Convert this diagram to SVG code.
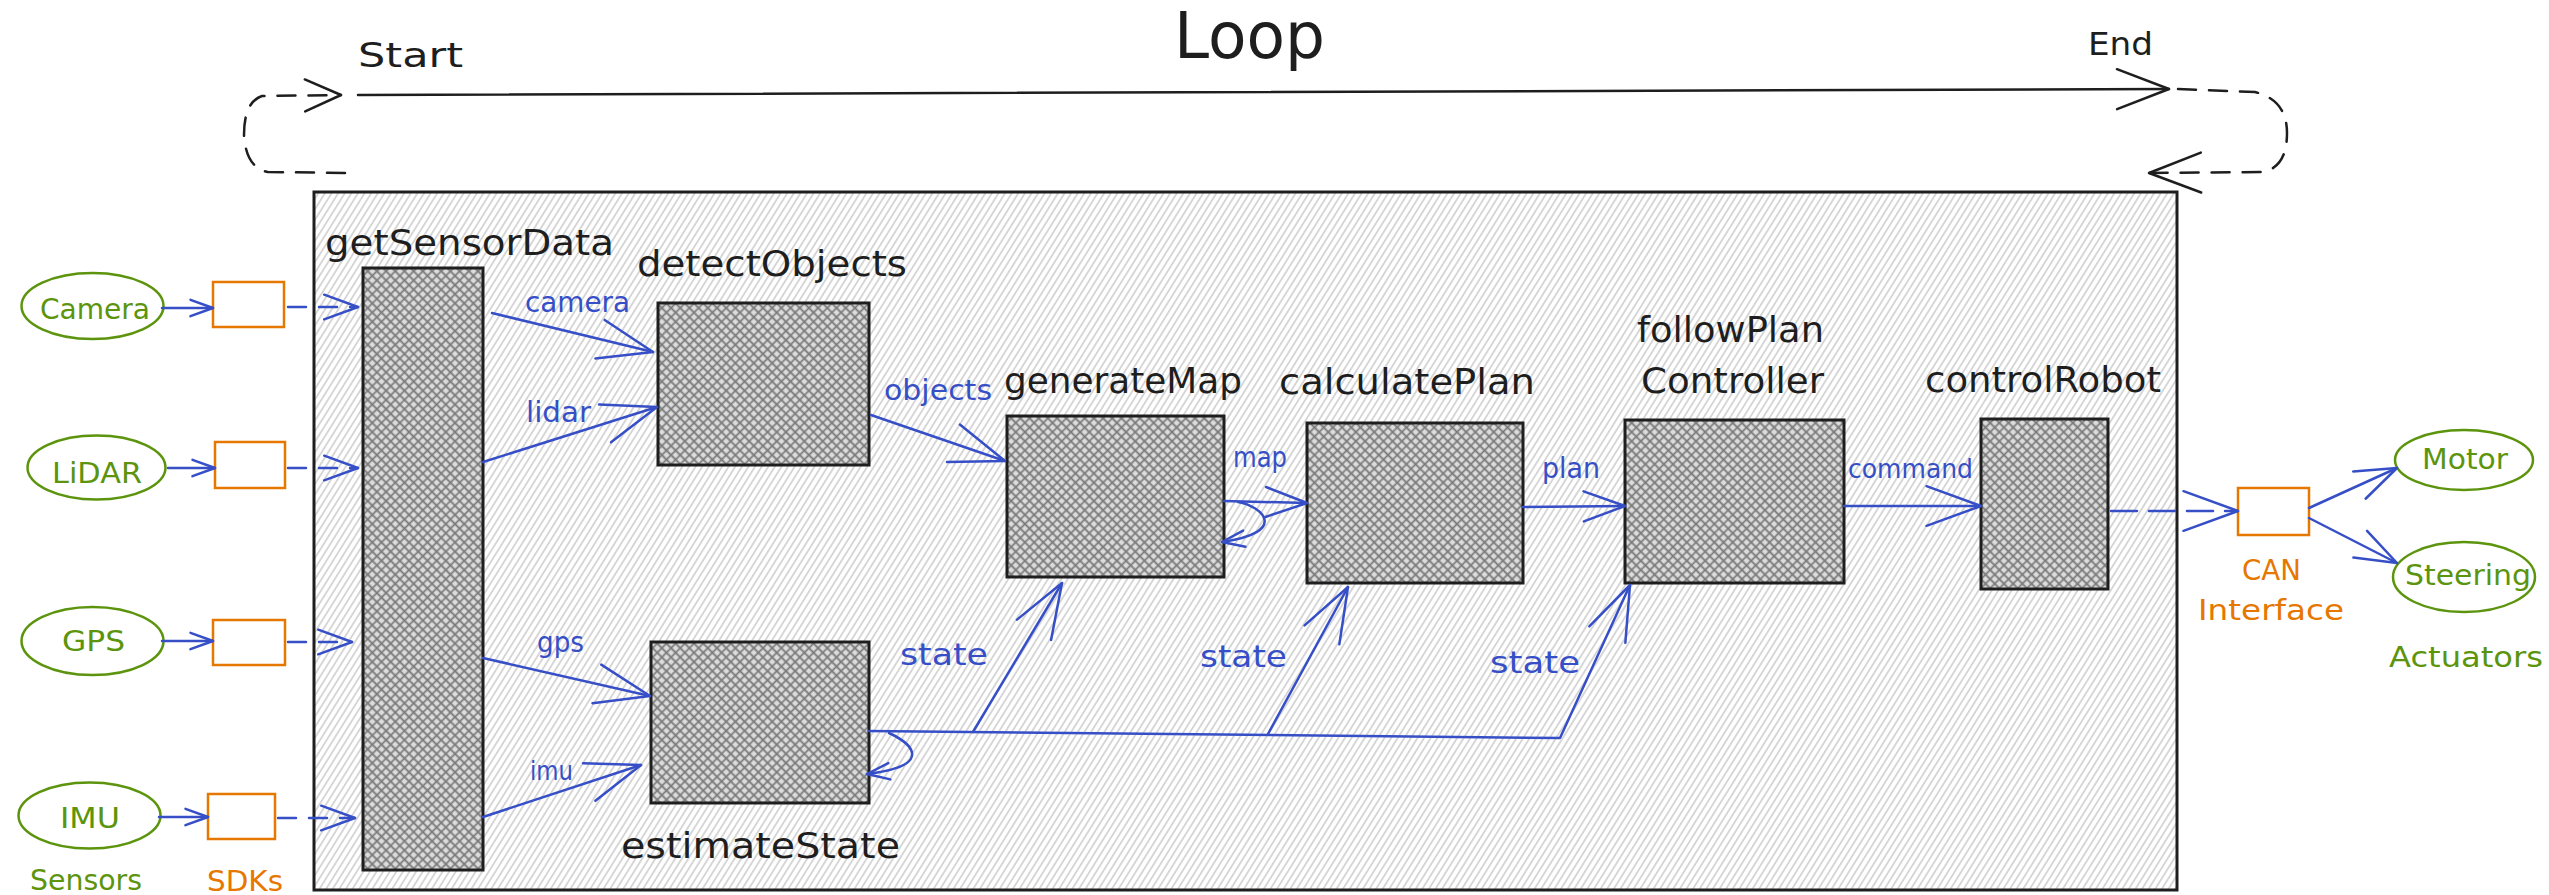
<svg xmlns="http://www.w3.org/2000/svg" width="2549" height="895" viewBox="0 0 2549 895">
<style>
  .t { font-family: "DejaVu Sans", "Liberation Sans", sans-serif; }
  .blk { fill: #1e1e1e; }
  .blue { fill: #364fc7; }
  .grn { fill: #5c940d; }
  .org { fill: #e67700; }
  .conn { fill: none; stroke: #364fc7; stroke-width: 2.5; stroke-linecap: round; stroke-linejoin: round; }
  .dash { stroke-dasharray: 18 13; }
  .dash2 { stroke-dasharray: 26 12; }
  .mk { fill: none; stroke: #364fc7; stroke-width: 2.5; stroke-linecap: round; stroke-linejoin: round; }
  .mkk { fill: none; stroke: #1e1e1e; stroke-width: 2.5; stroke-linecap: round; stroke-linejoin: round; }
  .node { fill: url(#xhatch); stroke: #1e1e1e; stroke-width: 3; }
  .sensor { fill: none; stroke: #5c940d; stroke-width: 2.5; }
  .sdk { fill: #ffffff; stroke: #e67700; stroke-width: 2.5; }
  .loop { fill: none; stroke: #1e1e1e; stroke-width: 2.5; stroke-linecap: round; }
  .loopdash { stroke-dasharray: 18 13; }
</style>
<defs>
  <!-- light single-direction hachure for the loop body -->
  <pattern id="hachure" patternUnits="userSpaceOnUse" width="5.6" height="10" patternTransform="rotate(32)">
    <rect width="5.6" height="10" fill="#ffffff"/>
    <path d="M2.8 0 V10" stroke="#b9b9b9" stroke-width="1.1"/>
  </pattern>
  <!-- cross-hatch for the step blocks -->
  <pattern id="xhatch" patternUnits="userSpaceOnUse" width="6.5" height="6.5" patternTransform="rotate(45)">
    <rect width="6.5" height="6.5" fill="#dcdcdc"/>
    <path d="M0 3.25 H6.5 M3.25 0 V6.5" stroke="#7a7a7a" stroke-width="1.7"/>
  </pattern>
  <!-- open arrowheads -->
  <marker id="ahL" markerUnits="userSpaceOnUse" orient="auto" viewBox="-60 -25 64 50" markerWidth="64" markerHeight="50" refX="0" refY="0">
    <path class="mk" d="M-54.5,-19.8 L0,0 L-54.5,19.8"/>
  </marker>
  <marker id="ahM" markerUnits="userSpaceOnUse" orient="auto" viewBox="-60 -25 64 50" markerWidth="64" markerHeight="50" refX="0" refY="0">
    <path class="mk" d="M-41.3,-15 L0,0 L-41.3,15"/>
  </marker>
  <marker id="ahD" markerUnits="userSpaceOnUse" orient="auto" viewBox="-60 -25 64 50" markerWidth="64" markerHeight="50" refX="0" refY="0">
    <path class="mk" d="M-33.8,-12.3 L0,0 L-33.8,12.3"/>
  </marker>
  <marker id="ahS" markerUnits="userSpaceOnUse" orient="auto" viewBox="-60 -25 64 50" markerWidth="64" markerHeight="50" refX="0" refY="0">
    <path class="mk" d="M-22.5,-8.2 L0,0 L-22.5,8.2"/>
  </marker>
  <marker id="ahK" markerUnits="userSpaceOnUse" orient="auto" viewBox="-60 -25 64 50" markerWidth="64" markerHeight="50" refX="0" refY="0">
    <path class="mkk" d="M-52,-20 L0,0 L-52,20"/>
  </marker>
  <marker id="ahKs" markerUnits="userSpaceOnUse" orient="auto" viewBox="-60 -25 64 50" markerWidth="64" markerHeight="50" refX="0" refY="0">
    <path class="mkk" d="M-36,-16 L0,0 L-36,16"/>
  </marker>
</defs>

<rect width="2549" height="895" fill="#ffffff"/>

<!-- loop header: start -> end with dashed return -->
<g id="loop">
  <text class="t blk" x="1174" y="58" font-size="64" textLength="151" lengthAdjust="spacingAndGlyphs">Loop</text>
  <text class="t blk" x="358" y="67" font-size="34" textLength="105" lengthAdjust="spacingAndGlyphs">Start</text>
  <text class="t blk" x="2088" y="55" font-size="32" textLength="65" lengthAdjust="spacingAndGlyphs">End</text>
  <path class="loop" d="M358 95 L2169 89" stroke-width="3" marker-end="url(#ahK)"/>
  <path class="loop loopdash" d="M345 173 L268 172 Q246 168 244 135 Q244 102 262 96 L341 95" marker-end="url(#ahKs)"/>
  <path class="loop loopdash" d="M2178 89 L2255 92 Q2287 100 2287 133 Q2287 168 2262 172 L2149 173" marker-end="url(#ahK)"/>
</g>

<!-- loop body -->
<g id="loop-body">
  <rect x="314" y="192" width="1863" height="698" fill="url(#hachure)" stroke="#1e1e1e" stroke-width="3"/>
</g>

<!-- sensors -->
<g id="sensor-camera">
  <ellipse class="sensor" cx="92.5" cy="306" rx="71" ry="33"/>
  <text class="t grn" x="40" y="319" font-size="29" textLength="110" lengthAdjust="spacingAndGlyphs">Camera</text>
</g>
<g id="sensor-lidar">
  <ellipse class="sensor" cx="96.5" cy="467.5" rx="69" ry="32"/>
  <text class="t grn" x="52" y="483" font-size="29" textLength="90" lengthAdjust="spacingAndGlyphs">LiDAR</text>
</g>
<g id="sensor-gps">
  <ellipse class="sensor" cx="92.5" cy="641" rx="71" ry="34"/>
  <text class="t grn" x="62" y="651" font-size="29" textLength="63" lengthAdjust="spacingAndGlyphs">GPS</text>
</g>
<g id="sensor-imu">
  <ellipse class="sensor" cx="89.5" cy="815.5" rx="71" ry="33"/>
  <text class="t grn" x="60" y="828" font-size="29" textLength="60" lengthAdjust="spacingAndGlyphs">IMU</text>
</g>
<g id="sensors-caption">
  <text class="t grn" x="30" y="890" font-size="29" textLength="112" lengthAdjust="spacingAndGlyphs">Sensors</text>
</g>

<!-- SDK adapters -->
<g id="sdk-camera"><rect class="sdk" x="213" y="282" width="71" height="45"/></g>
<g id="sdk-lidar"><rect class="sdk" x="215" y="442" width="70" height="46"/></g>
<g id="sdk-gps"><rect class="sdk" x="213" y="620" width="72" height="45"/></g>
<g id="sdk-imu"><rect class="sdk" x="208" y="794" width="67" height="45"/></g>
<g id="sdks-caption">
  <text class="t org" x="207" y="891" font-size="29" textLength="76" lengthAdjust="spacingAndGlyphs">SDKs</text>
</g>

<!-- processing steps -->
<g id="getSensorData">
  <rect class="node" x="363" y="268" width="120" height="602"/>
  <text class="t blk" x="325" y="255" font-size="35" textLength="289" lengthAdjust="spacingAndGlyphs">getSensorData</text>
</g>
<g id="detectObjects">
  <rect class="node" x="658" y="303" width="211" height="162"/>
  <text class="t blk" x="637" y="276" font-size="35" textLength="270" lengthAdjust="spacingAndGlyphs">detectObjects</text>
</g>
<g id="generateMap">
  <rect class="node" x="1007" y="416" width="217" height="161"/>
  <text class="t blk" x="1004" y="393" font-size="35" textLength="238" lengthAdjust="spacingAndGlyphs">generateMap</text>
</g>
<g id="calculatePlan">
  <rect class="node" x="1307" y="423" width="216" height="160"/>
  <text class="t blk" x="1279" y="394" font-size="35" textLength="256" lengthAdjust="spacingAndGlyphs">calculatePlan</text>
</g>
<g id="followPlanController">
  <rect class="node" x="1625" y="420" width="219" height="163"/>
  <text class="t blk" x="1637" y="342" font-size="35" textLength="187" lengthAdjust="spacingAndGlyphs">followPlan</text>
  <text class="t blk" x="1641" y="393" font-size="35" textLength="183" lengthAdjust="spacingAndGlyphs">Controller</text>
</g>
<g id="controlRobot">
  <rect class="node" x="1981" y="419" width="127" height="170"/>
  <text class="t blk" x="1925" y="392" font-size="35" textLength="236" lengthAdjust="spacingAndGlyphs">controlRobot</text>
</g>
<g id="estimateState">
  <rect class="node" x="651" y="642" width="218" height="161"/>
  <text class="t blk" x="621" y="858" font-size="35" textLength="279" lengthAdjust="spacingAndGlyphs">estimateState</text>
</g>

<!-- CAN interface and actuators -->
<g id="can-interface">
  <rect class="sdk" x="2238" y="488" width="71" height="47"/>
  <text class="t org" x="2242" y="580" font-size="29" textLength="59" lengthAdjust="spacingAndGlyphs">CAN</text>
  <text class="t org" x="2198" y="620" font-size="29" textLength="146" lengthAdjust="spacingAndGlyphs">Interface</text>
</g>
<g id="actuator-motor">
  <ellipse class="sensor" cx="2464" cy="460" rx="69" ry="30"/>
  <text class="t grn" x="2422" y="469" font-size="29" textLength="86" lengthAdjust="spacingAndGlyphs">Motor</text>
</g>
<g id="actuator-steering">
  <ellipse class="sensor" cx="2464" cy="577" rx="71" ry="35"/>
  <text class="t grn" x="2405" y="585" font-size="29" textLength="126" lengthAdjust="spacingAndGlyphs">Steering</text>
</g>
<g id="actuators-caption">
  <text class="t grn" x="2389" y="667" font-size="29" textLength="154" lengthAdjust="spacingAndGlyphs">Actuators</text>
</g>

<!-- connectors -->
<g id="connectors">
  <!-- sensor -> SDK -->
  <path class="conn" d="M162 308 L213 308" marker-end="url(#ahS)"/>
  <path class="conn" d="M168 468 L215 468" marker-end="url(#ahS)"/>
  <path class="conn" d="M162 641 L213 641" marker-end="url(#ahS)"/>
  <path class="conn" d="M159 817 L208 817" marker-end="url(#ahS)"/>
  <!-- SDK -> getSensorData -->
  <path class="conn dash" d="M288 307 L358 307" marker-end="url(#ahD)"/>
  <path class="conn dash" d="M288 468 L358 468" marker-end="url(#ahD)"/>
  <path class="conn dash" d="M288 642 L352 642" marker-end="url(#ahD)"/>
  <path class="conn dash" d="M278 818 L355 818" marker-end="url(#ahD)"/>
  <!-- getSensorData -> detectObjects / estimateState -->
  <path class="conn" d="M492 313 L653 352" marker-end="url(#ahL)"/>
  <path class="conn" d="M483 462 L657 407" marker-end="url(#ahL)"/>
  <path class="conn" d="M483 658 L650 696" marker-end="url(#ahL)"/>
  <path class="conn" d="M483 817 L641 765" marker-end="url(#ahL)"/>
  <text class="t blue" x="525" y="312" font-size="28" textLength="105" lengthAdjust="spacingAndGlyphs">camera</text>
  <text class="t blue" x="526" y="422" font-size="29" textLength="65" lengthAdjust="spacingAndGlyphs">lidar</text>
  <text class="t blue" x="537" y="652" font-size="29" textLength="47" lengthAdjust="spacingAndGlyphs">gps</text>
  <text class="t blue" x="530" y="780" font-size="27" textLength="43" lengthAdjust="spacingAndGlyphs">imu</text>
  <!-- detectObjects -> generateMap -->
  <path class="conn" d="M871 415 L1005 461" marker-end="url(#ahL)"/>
  <text class="t blue" x="884" y="400" font-size="28" textLength="108" lengthAdjust="spacingAndGlyphs">objects</text>
  <!-- generateMap -> calculatePlan, with self loop -->
  <path class="conn" d="M1224 501 L1307 503" marker-end="url(#ahM)"/>
  <path class="conn" d="M1238 502 C1262 506 1290 532 1222 542" marker-end="url(#ahS)"/>
  <text class="t blue" x="1233" y="467" font-size="28" textLength="54" lengthAdjust="spacingAndGlyphs">map</text>
  <!-- calculatePlan -> followPlan Controller -->
  <path class="conn" d="M1523 507 L1625 506" marker-end="url(#ahM)"/>
  <text class="t blue" x="1542" y="478" font-size="29" textLength="58" lengthAdjust="spacingAndGlyphs">plan</text>
  <!-- followPlan Controller -> controlRobot -->
  <path class="conn" d="M1844 506 L1981 506" marker-end="url(#ahL)"/>
  <text class="t blue" x="1848" y="478" font-size="27" textLength="125" lengthAdjust="spacingAndGlyphs">command</text>
  <!-- controlRobot -> CAN -> actuators -->
  <path class="conn dash2" d="M2111 511 L2238 511" marker-end="url(#ahL)"/>
  <path class="conn" d="M2309 508 L2397 468" marker-end="url(#ahM)"/>
  <path class="conn" d="M2309 518 L2397 563" marker-end="url(#ahM)"/>
  <!-- estimateState fan-out -->
  <path class="conn" d="M869 731 L1560 738 L1630 585" marker-end="url(#ahL)"/>
  <path class="conn" d="M973 732 L1062 583" marker-end="url(#ahL)"/>
  <path class="conn" d="M1268 734 L1348 587" marker-end="url(#ahL)"/>
  <path class="conn" d="M889 733 C915 745 932 766 867 774" marker-end="url(#ahS)"/>
  <text class="t blue" x="900" y="665" font-size="30" textLength="88" lengthAdjust="spacingAndGlyphs">state</text>
  <text class="t blue" x="1200" y="667" font-size="30" textLength="87" lengthAdjust="spacingAndGlyphs">state</text>
  <text class="t blue" x="1490" y="673" font-size="30" textLength="90" lengthAdjust="spacingAndGlyphs">state</text>
</g>
</svg>
